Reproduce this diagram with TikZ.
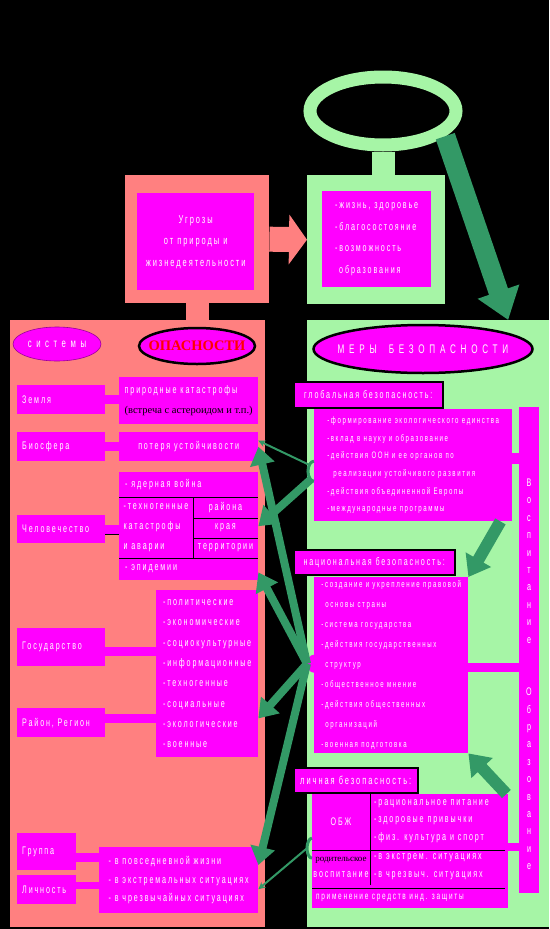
\documentclass[tikz,border=0pt]{standalone}
\usepackage{fontspec}
\setmainfont{Liberation Sans}
\newfontfamily\spc[LetterSpace=17, FakeStretch=0.65]{Liberation Sans}
\newfontfamily\wide[LetterSpace=38, FakeStretch=0.65]{Liberation Sans}
\newfontfamily\headfont{Liberation Serif}
\usetikzlibrary{arrows.meta,positioning,shapes.geometric,calc}
\definecolor{salmon}{HTML}{FF8080}
\definecolor{mint}{HTML}{A6F5A6}
\definecolor{pine}{HTML}{339966}
\definecolor{fuchsia}{HTML}{FF00FF}

\begin{document}
\begin{tikzpicture}[x=1pt, y=-1pt,
    every node/.style={font=\spc\fontsize{11}{12}\selectfont, text=white, inner sep=2pt},
    mbox/.style={rectangle, fill=fuchsia, anchor=north west, align=left},
    sysbox/.style={mbox, text width=78pt, inner xsep=5pt, minimum height=29pt},
    tagbox/.style={mbox, draw=black, line width=1.5pt, align=center},
    title/.style={ellipse, fill=fuchsia, draw=black, line width=2.5pt},
    bar/.style={fuchsia, line width=9pt},
    fatarrow/.style={pine, line width=8pt, -{Triangle[length=18pt,width=24pt]}},
    thinarrow/.style={pine, line width=2pt, -{Stealth[length=7pt,width=7pt]}},
    tableline/.style={black, line width=0.8pt},
]
% background and page size
\fill[black] (0,0) rectangle (549,929);
\useasboundingbox (0,0) rectangle (549,929);

% two big panels
\node[mbox, fill=salmon, minimum width=255, minimum height=607] (dangerPanel) at (10,320) {};
\node[mbox, fill=mint, minimum width=242, minimum height=607] (safetyPanel) at (307,320) {};

% top part: threats -> values
\node[mbox, fill=salmon, minimum width=144, minimum height=128] (threatFrame) at (125,175) {};
\node[mbox, fill=mint, minimum width=138, minimum height=129] (valuesFrame) at (307,175) {};
\draw[salmon, line width=23pt] (threatFrame.south) -- (threatFrame.south |- dangerPanel.north);
\draw[salmon, line width=25pt, -{Triangle[length=18pt,width=49pt]}] (threatFrame.east) -- (valuesFrame.west);
\node[mbox, minimum width=117, minimum height=97, align=center,
    font=\spc\fontsize{11.5}{21.5}\selectfont] (threats) at (137,193)
    {Угрозы\\от природы и\\жизнедеятельности};
\node[mbox, minimum width=109, minimum height=96,
    font=\spc\fontsize{11}{21.5}\selectfont] (values) at (322,191)
    {-жизнь, здоровье\\-благосостояние\\-возможность\\\hspace*{4pt}образования};

% ring on top
\node[ellipse, draw=mint, line width=13pt, minimum width=146, minimum height=68] (ring) at (383,111) {};
\draw[mint, line width=23pt] (ring.south) -- (ring.south |- valuesFrame.north);
\coordinate (panelTip) at ($(safetyPanel.north west)!0.83!(safetyPanel.north east)$);
\draw[pine, line width=20pt, -{Triangle[length=30pt,width=42pt]}] (ring.-22) -- (panelTip);

% panel titles
\node[ellipse, fill=fuchsia, draw=fuchsia!60!black, line width=0.6pt, minimum width=88, minimum height=34] (sysTitle) at (57,344) {};
\node[font=\wide\fontsize{12}{13}\selectfont] (sysText) at (sysTitle) {системы};
\node[title, minimum width=116, minimum height=36] (dangerTitle) at (197,346) {};
\node[text=red, font=\headfont\bfseries\fontsize{14.5}{15}\selectfont] (dangerText) at (dangerTitle) {ОПАСНОСТИ};
\node[title, minimum width=219, minimum height=48] (safetyTitle) at (423,349) {};
\node[font=\wide\fontsize{12.5}{14}\selectfont] (safetyText) at (safetyTitle) {МЕРЫ\hspace{12pt}БЕЗОПАСНОСТИ};

% systems
\node[sysbox] (earth) at (17,385) {Земля};
\node[sysbox] (biosphere) at (17,432) {Биосфера};
\node[sysbox, minimum height=28] (mankind) at (17,515) {Человечество};
\node[sysbox, minimum height=38] (state) at (17,628) {Государство};
\node[sysbox] (region) at (17,708) {Район, Регион};
\node[sysbox, text width=49pt, minimum height=37] (group) at (17,833) {Группа};
\node[sysbox, text width=49pt] (person) at (17,875) {Личность};

% dangers
\node[mbox, minimum width=139, minimum height=47, font=\spc\fontsize{11}{20}\selectfont] (earthD) at (119,377)
    {природные катастрофы\\{\headfont\fontsize{10.5}{11}\selectfont\color{black}(встреча с астероидом и т.п.)}};
\node[mbox, minimum width=139, minimum height=29] (biosD) at (119,432) {потеря устойчивости};
\node[mbox, minimum width=139, minimum height=108] (mankindD) at (119,472) {};
\node[mbox, minimum width=102, minimum height=167, font=\spc\fontsize{11}{20.3}\selectfont] (stateD) at (156,590)
    {-политические\\-экономические\\-социокультурные\\-информационные\\-техногенные\\-социальные\\-экологические\\-военные};
\node[mbox, minimum width=159, minimum height=66, font=\spc\fontsize{11}{18.5}\selectfont] (personD) at (99,847)
    {- в повседневной жизни\\- в экстремальных ситуациях\\- в чрезвычайных ситуациях};

% table of mankind dangers
\draw[tableline] ([yshift=-25pt]mankindD.north west) -- ([yshift=-25pt]mankindD.north east);
\draw[tableline] ([yshift=-86pt]mankindD.north west) -- ([yshift=-86pt]mankindD.north east);
\draw[tableline] ([xshift=74pt,yshift=-25pt]mankindD.north west) -- ([xshift=74pt,yshift=-86pt]mankindD.north west);
\draw[tableline] ([xshift=74pt,yshift=-46pt]mankindD.north west) -- ([yshift=-46pt]mankindD.north east);
\draw[tableline] ([xshift=74pt,yshift=-66pt]mankindD.north west) -- ([yshift=-66pt]mankindD.north east);
\node[anchor=west] (nuclear) at ([xshift=4pt,yshift=-12.5pt]mankindD.north west) {- ядерная война};
\node[align=left, font=\spc\fontsize{11}{20}\selectfont] (techno) at ([xshift=37pt,yshift=-55.5pt]mankindD.north west)
    {-техногенные\\катастрофы\\и аварии};
\node (districts) at ([xshift=106.5pt,yshift=-35.5pt]mankindD.north west) {района};
\node (lands) at ([xshift=106.5pt,yshift=-56pt]mankindD.north west) {края};
\node (areas) at ([xshift=106.5pt,yshift=-76pt]mankindD.north west) {территории};
\node[anchor=west] (epidemic) at ([xshift=4pt,yshift=-97pt]mankindD.north west) {- эпидемии};

% links system -> danger
\draw[bar] (earth.east) -- (earth.east -| earthD.west);
\draw[bar] (biosphere.east) -- (biosphere.east -| biosD.west);
\draw[bar] (mankind.east) -- (mankind.east -| mankindD.west);
\draw[tableline] ([yshift=-5pt]mankind.east) -- ([yshift=-5pt]mankind.east -| mankindD.west);
\draw[bar] ([yshift=-4.5pt]state.east) -- ([yshift=-4.5pt]state.east -| stateD.west);
\draw[bar] ([yshift=4.5pt]region.east) -- ([yshift=4.5pt]region.east -| stateD.west);
\draw[bar] ([yshift=-5.5pt]group.east) -- ([yshift=-5.5pt]group.east -| personD.west);
\draw[bar, line width=7pt] ([yshift=4pt]person.east) -- ([yshift=4pt]person.east -| personD.west);

% measures
\node[mbox, minimum width=20, minimum height=486] (eduCol) at (519,407) {};
\node[align=center, font=\spc\fontsize{11}{17.4}\selectfont] (upbringing) at (529,561) {В\\о\\с\\п\\и\\т\\а\\н\\и\\е};
\node[align=center, font=\spc\fontsize{11}{17.4}\selectfont] (education) at (529,779) {О\\б\\р\\а\\з\\о\\в\\а\\н\\и\\е};

\node[tagbox, minimum width=149, minimum height=26] (globTag) at (293,381) {глобальная безопасность:};
\node[mbox, minimum width=198, minimum height=112, font=\spc\fontsize{9.4}{17.6}\selectfont] (globD) at (314,409)
    {-формирование экологического единства\\-вклад в науку и образование\\-действия ООН и ее органов по\\
     \hspace*{6pt}реализации устойчивого развития\\-действия объединенной Европы\\-международные программы};

\node[tagbox, minimum width=161, minimum height=25] (natTag) at (293,549) {национальная безопасность:};
\node[mbox, minimum width=154, minimum height=176, font=\spc\fontsize{9.4}{20}\selectfont] (natD) at (314,577)
    {-создание и укрепление правовой\\\hspace*{4pt}основы страны\\-система государства\\-действия государственных\\
     \hspace*{4pt}структур\\-общественное мнение\\-действия общественных\\\hspace*{4pt}организаций\\-военная подготовка};

\node[tagbox, minimum width=124, minimum height=25, font=\spc\fontsize{11.5}{12}\selectfont] (persTag) at (293,767) {личная безопасность:};
\node[mbox, minimum width=196, minimum height=114] (persD) at (312,794) {};
\draw[tableline] ([xshift=58pt]persD.north west) -- ([xshift=58pt,yshift=-91pt]persD.north west);
\draw[tableline] ([yshift=-56pt]persD.north west) -- ([xshift=-3pt,yshift=-56pt]persD.north east);
\draw[tableline] ([yshift=-94pt]persD.north west) -- ([xshift=-3pt,yshift=-94pt]persD.north east);
\node (obzh) at ([xshift=29pt,yshift=-28pt]persD.north west) {ОБЖ};
\node[anchor=west, align=left, font=\spc\fontsize{11}{17.5}\selectfont] (habits) at ([xshift=60pt,yshift=-27pt]persD.north west)
    {-рациональное питание\\-здоровые привычки\\-физ. культура и спорт};
\node[align=center, font=\spc\fontsize{11}{16}\selectfont] (parents) at ([xshift=29pt,yshift=-73pt]persD.north west)
    {{\headfont\fontsize{9}{10}\selectfont\color{black}родительское}\\воспитание};
\node[anchor=west, align=left, font=\spc\fontsize{11}{18}\selectfont] (cases) at ([xshift=60pt,yshift=-73pt]persD.north west)
    {-в экстрем. ситуациях\\-в чрезвыч. ситуациях};
\node[anchor=west, font=\spc\fontsize{10}{11}\selectfont] (protect) at ([xshift=2pt,yshift=-104pt]persD.north west)
    {применение средств инд. защиты};

% links measures -> column
\draw[bar, line width=11pt] ([yshift=6.5pt]globD.east) -- ([yshift=6.5pt]globD.east -| eduCol.west);
\draw[bar] ([yshift=-2.5pt]natD.east) -- ([yshift=-2.5pt]natD.east -| eduCol.west);
\draw[bar, line width=8pt] ([yshift=4pt]persD.east) -- ([yshift=4pt]persD.east -| eduCol.west);

% nubs on the measure boxes
\coordinate (globNub) at ([yshift=-6pt]globD.west);
\coordinate (natNub) at ([yshift=1.5pt]natD.west);
\coordinate (persNub) at ([yshift=3pt]persD.west);
\draw[pine, line width=3pt] ([yshift=10pt]globNub) arc[start angle=90, end angle=270, x radius=6pt, y radius=10pt];
\fill[fuchsia] ([yshift=9pt]natNub) arc[start angle=90, end angle=270, x radius=7pt, y radius=9pt] -- cycle;
\draw[pine, line width=3pt] ([yshift=10pt]persNub) arc[start angle=90, end angle=270, x radius=5pt, y radius=10pt];

% measures act on dangers
\draw[thinarrow] ([xshift=-4pt,yshift=6pt]globNub) -- ([yshift=6pt]biosD.east);
\draw[fatarrow] ([xshift=-3pt,yshift=-8pt]globNub) -- (mankindD.east);
\draw[fatarrow] ([xshift=-7pt]natNub) -- (biosD.east);
\draw[fatarrow] ([xshift=-7pt]natNub) -- ([yshift=8pt]mankindD.south east);
\draw[fatarrow] ([xshift=-7pt]natNub) -- ([yshift=39pt]stateD.south east);
\draw[fatarrow] ([xshift=-7pt]natNub) -- ([yshift=-18pt]personD.north east);
\draw[thinarrow] ([xshift=-5pt]persNub) -- ([yshift=-9pt]personD.east);

% global and personal feed national
\draw[pine, line width=12pt, -{Triangle[length=20pt,width=28pt]}] ([xshift=-12pt]globD.south east) -- (natD.north east);
\draw[pine, line width=12pt, -{Triangle[length=20pt,width=28pt]}] ([xshift=-2pt]persD.north east) -- (natD.south east);
\end{tikzpicture}
\end{document}
